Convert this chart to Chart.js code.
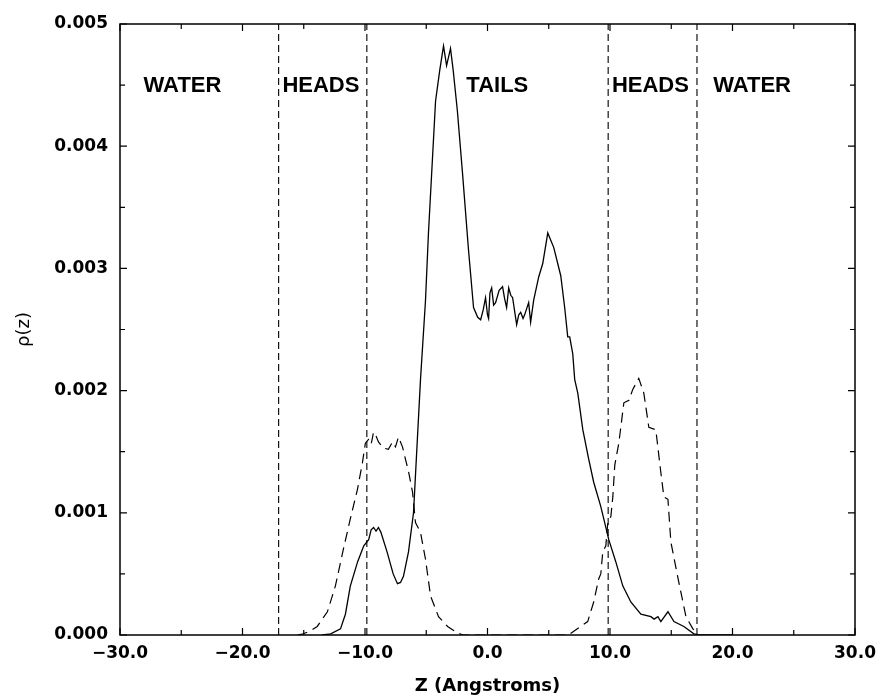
<!DOCTYPE html>
<html>
<head>
<meta charset="utf-8">
<title>rho(z) profile</title>
<script src="https://cdn.jsdelivr.net/npm/chart.js@4/dist/chart.umd.min.js"></script>
<style>
    html, body { margin: 0; padding: 0; background: #fff; }
    #wrap { width: 877px; height: 697px; }
</style>
</head>
<body>
<div id="wrap"><canvas id="densityChart" width="877" height="697"></canvas></div>
<script>
// Mat do tails (duong lien)
var zTails = [-13.5, -12.8, -12.0, -11.6, -11.2, -10.6, -10.1, -9.7, -9.5, -9.3, -9.1, -8.9, -8.7, -8.2, -7.7, -7.35, -7.1, -6.86, -6.45, -6.04,
    -5.47, -5.06, -4.82, -4.24, -3.9, -3.59, -3.34, -3.02, -2.8, -2.46, -2.04, -1.55, -1.14, -0.8, -0.56, -0.35, -0.16, 0.0, 0.09, 0.2,
    0.34, 0.5, 0.66, 0.95, 1.23, 1.4, 1.56, 1.73, 1.9, 2.05, 2.38, 2.55, 2.71, 2.9, 3.03, 3.36, 3.52, 3.77, 4.18, 4.51,
    4.92, 5.41, 5.98, 6.3, 6.55, 6.71, 6.96, 7.12, 7.37, 7.78, 8.26, 8.67, 9.25, 9.66, 9.9, 10.47, 11.05, 11.7, 12.52, 13.34,
    13.6, 13.91, 14.15, 14.73, 15.22, 16.03, 16.85, 17.3, 20.0];
var rhoTails = [0, 0.00001, 0.00005, 0.00017, 0.00040, 0.00060, 0.00073, 0.00078, 0.00086, 0.00088, 0.00085, 0.00088, 0.00084, 0.00068, 0.00050, 0.00042, 0.00043, 0.00048, 0.00068, 0.00100,
    0.00209, 0.00274, 0.00329, 0.00437, 0.00462, 0.00482, 0.00466, 0.00480, 0.00462, 0.00429, 0.00378, 0.00315, 0.00268, 0.00260, 0.00258, 0.00266, 0.00276, 0.00262, 0.00259, 0.00280,
    0.00284, 0.00270, 0.00272, 0.00282, 0.00285, 0.00275, 0.00268, 0.00284, 0.00278, 0.00276, 0.00254, 0.00262, 0.00264, 0.00259, 0.00262, 0.00272, 0.00256, 0.00274, 0.00293, 0.00304,
    0.00329, 0.00317, 0.00294, 0.00268, 0.00244, 0.00244, 0.00230, 0.00209, 0.00198, 0.00168, 0.00144, 0.00125, 0.00105, 0.00088, 0.00078, 0.00060, 0.00040, 0.00027, 0.00017, 0.00015,
    0.00013, 0.00015, 0.00011, 0.00019, 0.00011, 0.00007, 0.00001, 0, 0];

// Mat do heads (duong net dut)
var zHeads = [-15.5, -15.04, -14.5, -13.9, -13.07, -12.42, -11.77, -11.2, -10.62, -10.21, -9.97, -9.72, -9.5, -9.3, -9.15, -8.9, -8.5, -8.09, -7.76, -7.51,
    -7.27, -6.94, -6.7, -6.45, -6.12, -5.88, -5.47, -5.06, -4.65, -4.0, -3.26, -2.5, -2.0, 6.6, 7.61, 8.18, 8.67, 9.08, 9.25, 9.41,
    9.66, 9.82, 10.07, 10.23, 10.39, 10.72, 11.13, 11.54, 11.86, 12.35, 12.76, 13.17, 13.74, 14.15, 14.4, 14.73, 14.97, 15.62, 16.2, 16.77,
    17.18];
var rhoHeads = [0, 0.00001, 0.00003, 0.00007, 0.00019, 0.00040, 0.00070, 0.00095, 0.00119, 0.00141, 0.00157, 0.00160, 0.00156, 0.00166, 0.00164, 0.00158, 0.00153, 0.00152, 0.00158, 0.00154,
    0.00162, 0.00154, 0.00144, 0.00134, 0.00117, 0.00092, 0.00084, 0.00062, 0.00032, 0.00015, 0.00007, 0.00002, 0, 0, 0.00007, 0.00011, 0.00027, 0.00046, 0.00050, 0.00068,
    0.00073, 0.00092, 0.00097, 0.00113, 0.00139, 0.00157, 0.00190, 0.00192, 0.00201, 0.00210, 0.00198, 0.00170, 0.00168, 0.00133, 0.00113, 0.00111, 0.00076, 0.00043, 0.00015, 0.00005,
    0];

// Ranh gioi cac vung va nhan
var boundaries = [-17.05, -9.85, 9.85, 17.1];
var regionNames = ['WATER', 'HEADS', 'TAILS', 'HEADS', 'WATER'];
var regionCenters = [-24.9, -13.6, 0.8, 13.3, 21.6];
var regionLabelRho = 0.00449;

var xTickLabels = ['\u221230.0', '\u221220.0', '\u221210.0', '0.0', '10.0', '20.0', '30.0'];
var yTickLabels = ['0.000', '0.001', '0.002', '0.003', '0.004', '0.005'];

function toPoints(xs, ys) {
    return xs.map(function (x, i) { return { x: x, y: ys[i] }; });
}

var datasets = [
    { label: 'tails', data: toPoints(zTails, rhoTails), borderColor: '#000', borderWidth: 1.3, pointRadius: 0, showLine: true, tension: 0 },
    { label: 'heads', data: toPoints(zHeads, rhoHeads), borderColor: '#000', borderWidth: 1.2, borderDash: [10, 6], pointRadius: 0, showLine: true, tension: 0 }
];
boundaries.forEach(function (b) {
    datasets.push({ label: 'b', data: [{ x: b, y: 0 }, { x: b, y: 0.005 }], borderColor: '#000', borderWidth: 1.1, borderDash: [7, 4], pointRadius: 0, showLine: true });
});

// Khung, vach chia huong vao trong va nhan vung
var framePlugin = {
    id: 'frame',
    afterDatasetsDraw: function (chart) {
        var ctx = chart.ctx, a = chart.chartArea;
        var xs = chart.scales.x, ys = chart.scales.y;
        ctx.save();
        ctx.strokeStyle = '#000';
        ctx.lineWidth = 1.5;
        ctx.strokeRect(a.left, a.top, a.right - a.left, a.bottom - a.top);
        ctx.lineWidth = 1.2;
        ctx.beginPath();
        for (var z = -30; z <= 30; z += 5) {
            var px = xs.getPixelForValue(z);
            var len = (z % 10 === 0) ? 7 : 5;
            ctx.moveTo(px, a.bottom); ctx.lineTo(px, a.bottom - len);
            ctx.moveTo(px, a.top); ctx.lineTo(px, a.top + len);
        }
        for (var k = 0; k <= 10; k++) {
            var py = ys.getPixelForValue(k * 0.0005);
            var l2 = (k % 2 === 0) ? 7 : 5;
            ctx.moveTo(a.left, py); ctx.lineTo(a.left + l2, py);
            ctx.moveTo(a.right, py); ctx.lineTo(a.right - l2, py);
        }
        ctx.stroke();

        ctx.fillStyle = '#000';
        ctx.font = 'bold 22px "Liberation Sans", Arial, sans-serif';
        ctx.textAlign = 'center';
        ctx.textBaseline = 'middle';
        regionNames.forEach(function (name, i) {
            ctx.fillText(name, xs.getPixelForValue(regionCenters[i]), ys.getPixelForValue(regionLabelRho));
        });
        ctx.restore();
    }
};

new Chart(document.getElementById('densityChart').getContext('2d'), {
    type: 'scatter',
    data: { datasets: datasets },
    options: {
        responsive: false,
        animation: false,
        layout: { padding: { left: 0, right: 22, top: 24, bottom: 0 } },
        plugins: { legend: { display: false }, tooltip: { enabled: false } },
        scales: {
            x: {
                type: 'linear', min: -30, max: 30,
                afterFit: function (s) { s.height = 62; s.paddingLeft = 0; s.paddingRight = 0; },
                grid: { display: false, drawTicks: false },
                border: { display: false },
                ticks: {
                    stepSize: 10, padding: 8, color: '#000', maxRotation: 0,
                    font: { family: '"DejaVu Sans"', weight: 'bold', size: 17 },
                    callback: function (v) { return xTickLabels[Math.round((v + 30) / 10)]; }
                },
                title: {
                    display: true, text: 'Z (Angstroms)', color: '#000', padding: { top: 0, bottom: 0 },
                    font: { family: '"DejaVu Sans"', weight: 'bold', size: 18 }
                }
            },
            y: {
                type: 'linear', min: 0, max: 0.005,
                afterFit: function (s) { s.width = 120; s.paddingTop = 0; s.paddingBottom = 0; },
                grid: { display: false, drawTicks: false },
                border: { display: false },
                ticks: {
                    stepSize: 0.001, padding: 12, color: '#000',
                    font: { family: '"DejaVu Sans"', weight: 'bold', size: 17 },
                    callback: function (v) { return yTickLabels[Math.round(v / 0.001)]; }
                },
                title: {
                    display: true, text: 'ρ(z)', color: '#000', padding: { top: 14, bottom: 0 },
                    font: { family: '"DejaVu Sans"', size: 18 }
                }
            }
        }
    },
    plugins: [framePlugin]
});
</script>
</body>
</html>
